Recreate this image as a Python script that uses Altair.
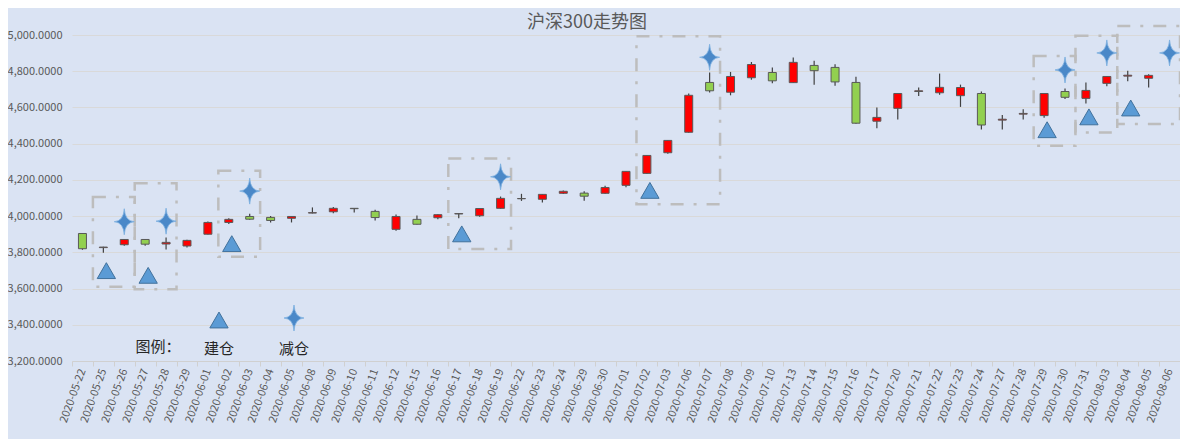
import altair as alt
import pandas as pd

# ---------------- data ----------------
dates = [
    "2020-05-22", "2020-05-25", "2020-05-26", "2020-05-27", "2020-05-28", "2020-05-29",
    "2020-06-01", "2020-06-02", "2020-06-03", "2020-06-04", "2020-06-05", "2020-06-08",
    "2020-06-09", "2020-06-10", "2020-06-11", "2020-06-12", "2020-06-15", "2020-06-16",
    "2020-06-17", "2020-06-18", "2020-06-19", "2020-06-22", "2020-06-23", "2020-06-24",
    "2020-06-29", "2020-06-30", "2020-07-01", "2020-07-02", "2020-07-03", "2020-07-06",
    "2020-07-07", "2020-07-08", "2020-07-09", "2020-07-10", "2020-07-13", "2020-07-14",
    "2020-07-15", "2020-07-16", "2020-07-17", "2020-07-20", "2020-07-21", "2020-07-22",
    "2020-07-23", "2020-07-24", "2020-07-27", "2020-07-28", "2020-07-29", "2020-07-30",
    "2020-07-31", "2020-08-03", "2020-08-04", "2020-08-05", "2020-08-06",
]

opens = [3904, 3826, 3842, 3871, 3846, 3835, 3900, 3965, 3998, 3993, 3988, 4017,
         4024, 4043, 4026, 3927, 3982, 3991, 4012, 4002, 4043, 4096, 4093, 4126,
         4127, 4126, 4170, 4236, 4350, 4463, 4738, 4684, 4764, 4793, 4737, 4832,
         4821, 4738, 4524, 4595, 4688, 4681, 4665, 4677, 4530, 4563, 4555, 4688,
         4650, 4733, 4773, 4761]
highs = [3906, 3831, 3873, 3873, 3882, 3870, 3970, 3988, 4013, 4000, 4000, 4048,
         4050, 4045, 4035, 4009, 4004, 4010, 4016, 4044, 4108, 4123, 4121, 4142,
         4137, 4168, 4248, 4337, 4420, 4677, 4793, 4796, 4851, 4820, 4876, 4858,
         4838, 4770, 4600, 4678, 4710, 4787, 4726, 4688, 4558, 4590, 4679, 4705,
         4738, 4773, 4802, 4783]
lows = [3814, 3798, 3836, 3836, 3816, 3826, 3898, 3957, 3980, 3965, 3965, 4015,
        4016, 4020, 3976, 3919, 3953, 3983, 3988, 3996, 4041, 4084, 4075, 4122,
        4085, 4124, 4160, 4234, 4344, 4460, 4683, 4667, 4753, 4733, 4735, 4725,
        4720, 4510, 4485, 4534, 4663, 4670, 4603, 4478, 4478, 4534, 4543, 4647,
        4622, 4717, 4745, 4710]
closes = [3820, 3829, 3871, 3845, 3855, 3866, 3965, 3982, 3983, 3976, 3998, 4019,
          4043, 4041, 3992, 3998, 3955, 4008, 4014, 4042, 4098, 4097, 4120, 4137,
          4110, 4158, 4247, 4335, 4418, 4667, 4692, 4771, 4837, 4747, 4849, 4803,
          4741, 4513, 4545, 4677, 4692, 4711, 4710, 4503, 4535, 4567, 4677, 4656,
          4694, 4771, 4778, 4777]

buy_dates = ["2020-05-25", "2020-05-27", "2020-06-02", "2020-06-17",
             "2020-07-02", "2020-07-29", "2020-07-31", "2020-08-04"]
buy_values = [3699, 3673, 3848, 3902, 4142, 4477, 4548, 4597]

sell_dates = ["2020-05-26", "2020-05-28", "2020-06-03", "2020-06-19",
              "2020-07-07", "2020-07-30", "2020-08-03", "2020-08-06"]
sell_values = [3969, 3972, 4138, 4217, 4877, 4807, 4901, 4901]

box_start = ["2020-05-25", "2020-05-27", "2020-06-02", "2020-06-17",
             "2020-07-02", "2020-07-29", "2020-07-31", "2020-08-04"]
box_end = ["2020-05-26", "2020-05-28", "2020-06-03", "2020-06-19",
           "2020-07-07", "2020-07-30", "2020-08-03", "2020-08-06"]
box_top = [4106, 4181, 4250, 4318, 4993, 4884, 4996, 5050]
box_bottom = [3610, 3596, 3775, 3818, 4066, 4388, 4462, 4508]

title_text = "沪深300走势图"
legend_caption = "图例："
buy_label = "建仓"
sell_label = "减仓"

y_ticks = [3200, 3400, 3600, 3800, 4000, 4200, 4400, 4600, 4800, 5000]

# ---------------- frames ----------------
n = len(opens)
candles = pd.DataFrame({
    "date": dates[:n], "open": opens, "high": highs, "low": lows, "close": closes,
})
candles["dir"] = ["up" if c >= o else "down" for o, c in zip(opens, closes)]

buys = pd.DataFrame({"date": buy_dates, "value": buy_values})
sells = pd.DataFrame({"date": sell_dates, "value": sell_values})
boxes = pd.DataFrame({
    "x0": [dates.index(d) - 0.5 for d in box_start],
    "x1": [dates.index(d) + 0.5 for d in box_end],
    "top": box_top, "bottom": box_bottom,
})

FONT = "Noto Sans CJK SC"
TEXT = "#595959"
W, H = 1108, 326

y_scale = alt.Scale(domain=[3200, 5000], nice=False, zero=False)
y_axis = alt.Axis(values=y_ticks, format=",.4f", title=None, ticks=False, tickSize=0,
                  domain=False, labelPadding=10, labelFontSize=11, labelColor=TEXT,
                  labelFont=FONT, grid=True, gridColor="#d9d9d9", gridWidth=1)
x_scale = alt.Scale(domain=dates, paddingInner=0, paddingOuter=0)
x_axis = alt.Axis(title=None, labelAngle=290, tickBand="extent", tickSize=5,
                  tickColor="#d0d0d0", domainColor="#d0d0d0", labelPadding=3,
                  labelFontSize=11, labelColor=TEXT, labelFont=FONT, grid=False)
x_main = alt.X("date:N", scale=x_scale, axis=x_axis)
x_plain = alt.X("date:N", scale=x_scale, axis=None)

wicks = alt.Chart(candles).mark_rule(color="#404040", strokeWidth=1.2).encode(
    x=x_main,
    y=alt.Y("low:Q", scale=y_scale, axis=y_axis),
    y2="high:Q",
)
bodies = alt.Chart(candles).mark_bar(size=8, stroke="#595959", strokeWidth=1).encode(
    x=x_plain,
    y=alt.Y("open:Q", scale=y_scale, axis=y_axis),
    y2="close:Q",
    color=alt.Color("dir:N", scale=alt.Scale(domain=["up", "down"], range=["#ff0000", "#92d050"]),
                    legend=None),
)

STAR = "M0,-1.3 Q0.07,-0.07 1,0 Q0.07,0.07 0,1.3 Q-0.07,0.07 -1,0 Q-0.07,-0.07 0,-1.3 Z"
STAR_FILL = "#4a88c8"
STAR_STROKE = "#7aaee0"

buy_layer = alt.Chart(buys).mark_point(
    shape="triangle-up", size=335, filled=True, color="#5b9bd5", stroke="#41719c",
    strokeWidth=1, opacity=1, xOffset=3,
).encode(x=x_plain, y=alt.Y("value:Q", scale=y_scale, axis=y_axis))

sell_layer = alt.Chart(sells).mark_point(
    shape=STAR, size=400, filled=True, color=STAR_FILL, stroke=STAR_STROKE,
    strokeWidth=0.8, opacity=1,
).encode(x=x_plain, y=alt.Y("value:Q", scale=y_scale, axis=y_axis))

box_layer = alt.Chart(boxes).mark_rect(
    fill="transparent", stroke="#bdbdbd", strokeWidth=2.5, strokeDash=[13, 10, 3, 10],
).encode(
    x=alt.X("x0:Q", scale=alt.Scale(domain=[-0.5, len(dates) - 0.5], nice=False, zero=False),
            axis=None),
    x2="x1:Q",
    y=alt.Y("top:Q", scale=y_scale, axis=y_axis),
    y2="bottom:Q",
)

one = pd.DataFrame({"k": [0]})
leg_tri = alt.Chart(one).mark_point(
    shape="triangle-up", size=335, filled=True, color="#5b9bd5", stroke="#41719c",
    strokeWidth=1, opacity=1,
).encode(x=alt.value(147), y=alt.value(285))
leg_star = alt.Chart(one).mark_point(
    shape=STAR, size=400, filled=True, color=STAR_FILL, stroke=STAR_STROKE,
    strokeWidth=0.8, opacity=1,
).encode(x=alt.value(222), y=alt.value(283))

leg_texts = alt.layer(
    alt.Chart(pd.DataFrame({"t": [legend_caption]})).mark_text(
        font=FONT, fontSize=15, color="#262626", align="center", baseline="middle"
    ).encode(x=alt.value(86), y=alt.value(312), text="t:N"),
    alt.Chart(pd.DataFrame({"t": [buy_label]})).mark_text(
        font=FONT, fontSize=15, color="#262626", align="center", baseline="middle"
    ).encode(x=alt.value(147), y=alt.value(314), text="t:N"),
    alt.Chart(pd.DataFrame({"t": [sell_label]})).mark_text(
        font=FONT, fontSize=15, color="#262626", align="center", baseline="middle"
    ).encode(x=alt.value(222), y=alt.value(314), text="t:N"),
)

chart = alt.layer(
    wicks, bodies, box_layer, buy_layer, sell_layer, leg_tri, leg_star, leg_texts,
).resolve_scale(x="independent").properties(
    width=W, height=H,
    title=alt.TitleParams(title_text, anchor="middle", dx=-39, dy=13, fontSize=18, color=TEXT,
                          font=FONT, fontWeight="normal", offset=6),
    autosize=alt.AutoSizeParams(type="none"),
    padding={"left": 64, "top": 27, "right": 0, "bottom": 78},
).configure(background="#dae3f3").configure_view(strokeWidth=0)

chart.save("out.html", embed_options={"renderer": "svg", "actions": False})
